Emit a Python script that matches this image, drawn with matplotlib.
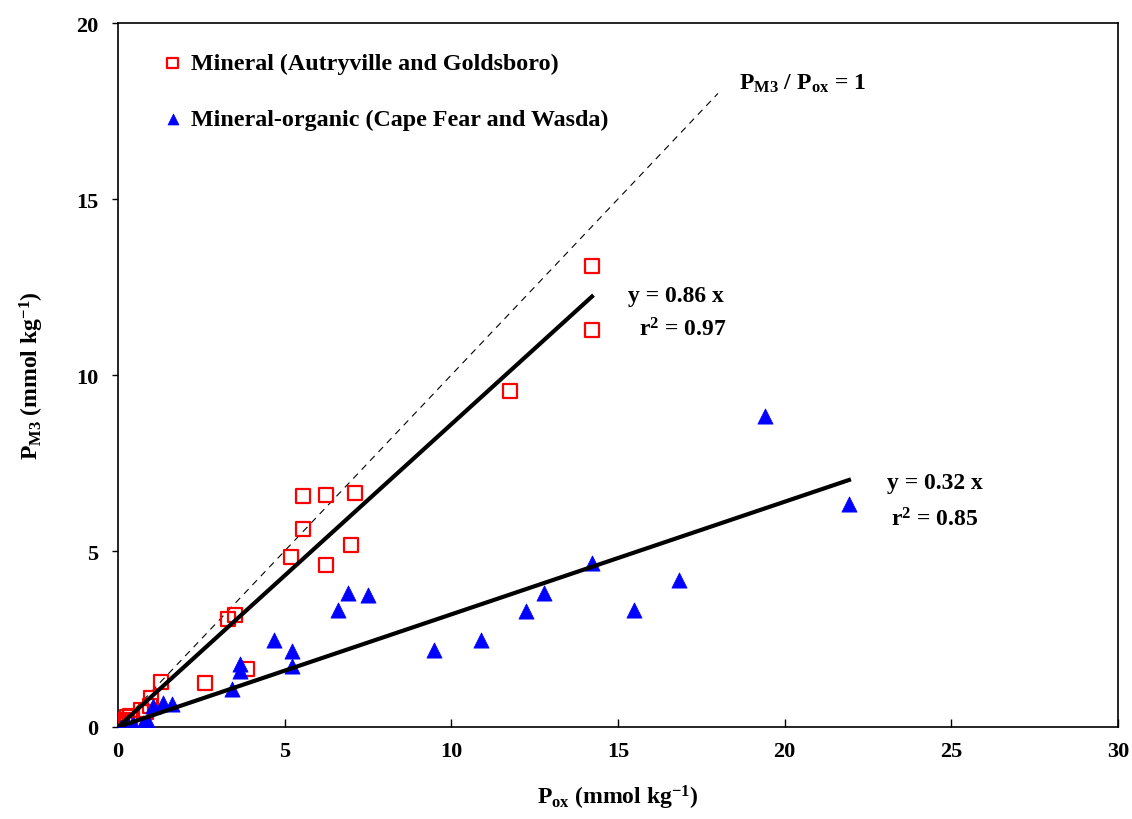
import numpy as np
import matplotlib
matplotlib.use('Agg')
import matplotlib.pyplot as plt

plt.rcParams['font.family'] = ['Liberation Serif', 'DejaVu Serif']
plt.rcParams['font.weight'] = 'bold'
plt.rcParams['axes.labelweight'] = 'bold'
plt.rcParams['mathtext.fontset'] = 'custom'
plt.rcParams['mathtext.rm'] = 'Liberation Serif:bold'
plt.rcParams['mathtext.bf'] = 'Liberation Serif:bold'
plt.rcParams['mathtext.it'] = 'Liberation Serif:bold'

# Mineral soils (Autryville and Goldsboro)
mineral_pox = [14.22, 14.22, 11.76, 5.55, 6.24, 7.11, 5.55, 5.19, 6.99, 6.24,
               3.30, 3.51, 3.87, 2.61, 1.29, 0.99, 0.69, 0.96, 0.84,
               0.36, 0.27, 0.21, 0.12, 0.09, 0.05]
mineral_pm3 = [13.10, 11.28, 9.55, 6.56, 6.59, 6.65, 5.62, 4.83, 5.17, 4.60,
               3.07, 3.18, 1.65, 1.25, 1.28, 0.82, 0.48, 0.60, 0.42,
               0.30, 0.28, 0.18, 0.12, 0.06, 0.10]

# Mineral-organic soils (Cape Fear and Wasda)
organic_pox = [19.41, 21.93, 14.22, 16.83, 15.48, 12.78, 12.24, 10.89, 9.48,
               6.90, 7.50, 6.60, 4.68, 5.22, 5.22, 3.66, 3.66, 3.42,
               1.62, 1.35, 1.05, 0.90, 0.75, 0.45, 0.30, 0.20, 0.10]
organic_pm3 = [8.84, 6.34, 4.66, 4.18, 3.32, 3.81, 3.30, 2.47, 2.19,
               3.81, 3.75, 3.32, 2.47, 2.16, 1.73, 1.79, 1.60, 1.08,
               0.65, 0.68, 0.60, 0.15, 0.10, 0.08, 0.05, 0.02, 0.0]

slope_mineral = 0.86
slope_organic = 0.32
r2_mineral = 0.97
r2_organic = 0.85

fig = plt.figure(figsize=(11.32, 8.2), dpi=100)
ax = fig.add_axes([0.1042, 0.1122, 0.8834, 0.8585])

ax.scatter(mineral_pox, mineral_pm3, marker='s', s=110, facecolors='none',
           edgecolors='red', linewidths=1.6, zorder=3,
           label='Mineral (Autryville and Goldsboro)')
ax.scatter(organic_pox, organic_pm3, marker='^', s=120, color='blue',
           edgecolors='blue', linewidths=0.5, zorder=3,
           label='Mineral-organic (Cape Fear and Wasda)')

# 1:1 reference line and fitted regressions through the origin
x11 = np.array([0, 18])
ax.plot(x11, x11, color='black', linestyle=(0, (6, 5)), linewidth=0.8, zorder=2)
xm = np.array([0, max(mineral_pox)])
ax.plot(xm, slope_mineral * xm, color='black', linewidth=3, zorder=4)
xo = np.array([0, max(organic_pox)])
ax.plot(xo, slope_organic * xo, color='black', linewidth=3, zorder=4)

tkw = dict(fontsize=17, fontweight='bold', ha='center', va='center')
ax.text(16.75, 12.25, f'y = {slope_mineral:.2f} x', **tkw)
ax.text(16.95, 11.3, f'r$^2$ = {r2_mineral:.2f}', **tkw)
ax.text(24.5, 6.95, f'y = {slope_organic:.2f} x', **tkw)
ax.text(24.5, 5.9, f'r$^2$ = {r2_organic:.2f}', **tkw)
ax.text(20.55, 18.3, r'$\mathbf{P_{M3}}$ / $\mathbf{P_{ox}}$ = 1', **tkw)

ax.set_xlim(0, 30)
ax.set_ylim(0, 20)
ax.set_xticks(range(0, 31, 5))
ax.set_yticks(range(0, 21, 5))
ax.tick_params(axis='x', direction='in', length=6, width=1, labelsize=16, pad=10)
ax.tick_params(axis='y', direction='out', length=4, width=1, labelsize=16, pad=10)
for lab in ax.get_xticklabels() + ax.get_yticklabels():
    lab.set_fontweight('bold')
for sp in ax.spines.values():
    sp.set_linewidth(1.2)

ax.set_xlabel(r'$\mathbf{P_{ox}}$ (mmol kg$^{\mathbf{-1}}$)', fontsize=17,
              fontweight='bold', labelpad=16)
ax.set_ylabel(r'$\mathbf{P_{M3}}$ (mmol kg$^{\mathbf{-1}}$)', fontsize=17,
              fontweight='bold', labelpad=22)

ax.legend(loc='upper left', bbox_to_anchor=(0.033, 0.972), frameon=False,
          fontsize=17.3, markerscale=0.72, handletextpad=0.25, labelspacing=1.42,
          borderaxespad=0.0, handlelength=1.0, scatterpoints=1)

fig.savefig('out.png', dpi=100)
